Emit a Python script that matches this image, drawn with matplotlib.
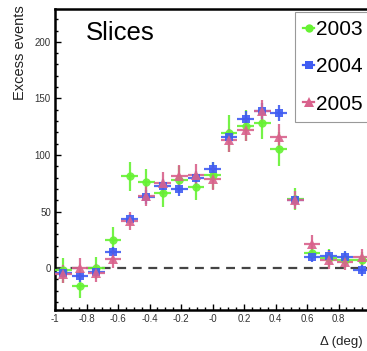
import matplotlib
matplotlib.use("Agg")
import matplotlib.pyplot as plt
from matplotlib.lines import Line2D
from matplotlib.ticker import MultipleLocator

plt.rcParams["font.family"] = ["Liberation Sans", "DejaVu Sans"]

# 19 bins of width 2/19 across [-1, 1]
bin_centres = [-0.947, -0.842, -0.737, -0.632, -0.526, -0.421, -0.316, -0.211, -0.105, 0.0,
               0.105, 0.211, 0.316, 0.421, 0.526, 0.632, 0.737, 0.842, 0.947]
half_width = 0.053

years = ["2003", "2004", "2005"]
events_2003 = [-2, -16, 0, 25, 81, 76, 66, 78, 72, 82, 119, 126, 128, 105, 61, 13, 9, 7, 7]
errors_2003 = [11, 10, 10, 11, 13, 12, 12, 12, 12, 12, 16, 14, 14, 15, 10, 7, 8, 7, 7]
events_2004 = [-4, -7, -3, 14, 43, 63, 73, 70, 80, 88, 116, 132, 139, 137, 60, 10, 11, 10, -2]
errors_2004 = [5, 5, 5, 5, 5, 6, 6, 6, 6, 6, 7, 7, 7, 7, 5, 5, 5, 5, 5]
events_2005 = [-5, 0, -4, 8, 42, 64, 75, 81, 82, 79, 113, 122, 139, 116, 60, 21, 7, 5, 10]
errors_2005 = [8, 9, 8, 8, 8, 9, 10, 10, 10, 10, 10, 10, 10, 11, 8, 8, 8, 7, 7]

styles = [
    ("#66f233", "o", 6.0),
    ("#3f5cf2", "s", 5.5),
    ("#d9628c", "^", 7.0),
]

fig = plt.figure(figsize=(3.67, 3.51), dpi=100)
ax = fig.add_axes([55 / 367, 1 - 310 / 351, 315 / 367, 301 / 351])

series = [(events_2003, errors_2003), (events_2004, errors_2004), (events_2005, errors_2005)]
for (vals, errs), (col, mk, ms) in zip(series, styles):
    ax.errorbar(bin_centres, vals, yerr=errs, xerr=half_width, fmt=mk, color=col,
                ecolor=col, elinewidth=1.6, capsize=0, markersize=ms,
                markeredgewidth=0, alpha=0.9, zorder=3)

ax.axhline(0, color="#444444", linestyle=(0, (4, 3)), linewidth=1.6, zorder=2)

ax.set_xlim(-1, 1)
ax.set_ylim(-37, 229)
ax.set_xticks([-1, -0.8, -0.6, -0.4, -0.2, 0, 0.2, 0.4, 0.6, 0.8, 1])
# the "1" label falls just outside the picture in the original
ax.set_xticklabels(["-1", "-0.8", "-0.6", "-0.4", "-0.2", "-0", "0.2", "0.4", "0.6", "0.8", ""])
ax.set_yticks([0, 50, 100, 150, 200])
ax.xaxis.set_minor_locator(MultipleLocator(0.05))
ax.yaxis.set_minor_locator(MultipleLocator(10))
ax.tick_params(which="both", direction="in", labelsize=7, labelcolor="#333333",
               top=False, right=False, width=1.0)
ax.tick_params(which="major", length=4, pad=3)
ax.tick_params(which="minor", length=2)
for sp in ax.spines.values():
    sp.set_linewidth(1.8)

fig.text(86 / 367, 1 - 33 / 351, "Slices", fontsize=18.5, ha="left", va="center")
fig.text(20 / 367, 1 - 100 / 351, "Excess events", rotation=90, fontsize=10.5,
         ha="center", va="bottom", color="#222222")
fig.text(320 / 367, 1 - 342 / 351, "\u0394 (deg)", fontsize=9.5, ha="left",
         va="center", color="#222222")

handles = [Line2D([], [], color=c, marker=m, markersize=ms, linewidth=1.6,
                  markeredgewidth=0) for c, m, ms in styles]
leg = fig.legend(handles, years, loc="lower left",
                 bbox_to_anchor=(295 / 367, 1 - 122 / 351), borderaxespad=0,
                 fontsize=15, handlelength=0.5, handletextpad=0.1,
                 labelspacing=0.88, borderpad=0.4,
                 fancybox=False, frameon=True, edgecolor="#999999", framealpha=1)
leg.get_frame().set_linewidth(0.8)

fig.savefig("out.png", dpi=100)
